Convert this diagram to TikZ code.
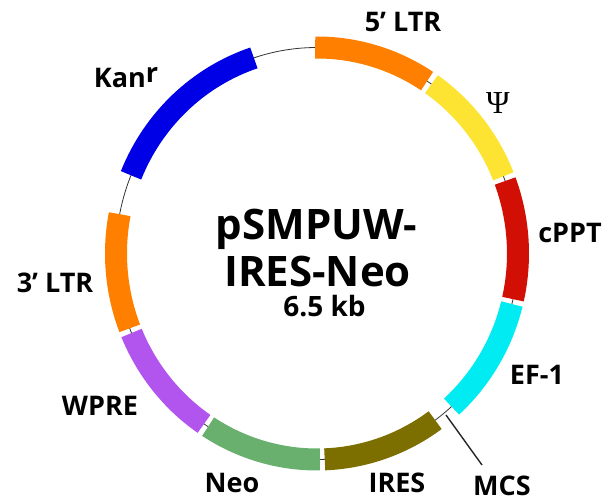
\documentclass[tikz,border=0pt]{standalone}
\usepackage{fontspec}
\setmainfont{Open Sans}
\newfontfamily\psifont{Liberation Serif}

\definecolor{ltrorange}{RGB}{255,128,0}
\definecolor{psiyellow}{RGB}{253,228,50}
\definecolor{cpptred}{RGB}{210,15,5}
\definecolor{efcyan}{RGB}{0,235,242}
\definecolor{iresolive}{RGB}{125,110,0}
\definecolor{neogreen}{RGB}{105,175,110}
\definecolor{wprepurple}{RGB}{178,85,238}
\definecolor{kanblue}{RGB}{0,0,230}

\begin{document}
\begin{tikzpicture}[x=1pt, y=1pt,
                    seg/.style={line width=22pt},
                    ring/.style={x radius=201pt, y radius=206pt},
                    lbl/.style={font=\fontsize{27}{30}\selectfont\bfseries, inner sep=1pt},
                    ttl/.style={font=\fontsize{42}{46}\selectfont\bfseries, anchor=base}]
                        \useasboundingbox (-317,-248.5) rectangle (288,253.5);
                        % backbone
                        \draw[line width=0.8pt, black!80] (0,0) circle[ring];
                        % features, clockwise from the top
                        \draw[seg, ltrorange]  (90.5:201pt and 206pt) arc[ring, start angle=90.5, end angle=56.8];
                        \draw[seg, psiyellow]  (55.3:201pt and 206pt) arc[ring, start angle=55.3, end angle=22];
                        \draw[seg, cpptred]    (20.6:201pt and 206pt) arc[ring, start angle=20.6, end angle=-12.8];
                        \draw[seg, efcyan]     (-14.2:201pt and 206pt) arc[ring, start angle=-14.2, end angle=-48];
                        \draw[seg, iresolive]  (-54:201pt and 206pt) arc[ring, start angle=-54, end angle=-87.8];
                        \draw[seg, neogreen]   (-89.2:201pt and 206pt) arc[ring, start angle=-89.2, end angle=-122.8];
                        \draw[seg, wprepurple] (-124.2:201pt and 206pt) arc[ring, start angle=-124.2, end angle=-157.3];
                        \draw[seg, ltrorange]  (-158.7:201pt and 206pt) arc[ring, start angle=-158.7, end angle=-191];
                        \draw[seg, kanblue]    (157.7:201pt and 206pt) arc[ring, start angle=157.7, end angle=108.3];
                        % labels
                        \node[lbl] (ltr5) at (86,231.5) {5’ LTR};
                        \node[font=\fontsize{32}{34}\selectfont\psifont, inner sep=1pt] (psi) at (181,150.5) {Ψ};
                        \node[lbl] (cppt) at (253,20.5) {cPPT};
                        \node[lbl] (ef1) at (220,-121.5) {EF-1};
                        \node[lbl] (mcs) at (185,-232.5) {MCS};
                        \node[lbl] (ires) at (80,-229.5) {IRES};
                        \node[lbl] (neo) at (-85,-229.5) {Neo};
                        \node[lbl] (wpre) at (-217,-152.5) {WPRE};
                        \node[lbl] (ltr3) at (-262,-29.5) {3’ LTR};
                        \node[lbl] (kan) at (-191,175.5) {Kan\raisebox{5pt}{r}};
                        % cloning site
                        \coordinate (mcsa) at (129,-161.5);
                        \coordinate (mcsb) at (165,-211.5);
                        \draw[line width=1.4pt, black!85] (mcsa) -- (mcsb);
                        % name and size
                        \node[ttl] (name1) at (-0.5,13.5) {pSMPUW-};
                        \node[ttl] (name2) at (0.5,-33.5) {IRES-Neo};
                        \node[ttl, font=\fontsize{28}{30}\selectfont\bfseries] (size) at (7.5,-63.5) {6.5 kb};
                    \end{tikzpicture}
\end{document}
